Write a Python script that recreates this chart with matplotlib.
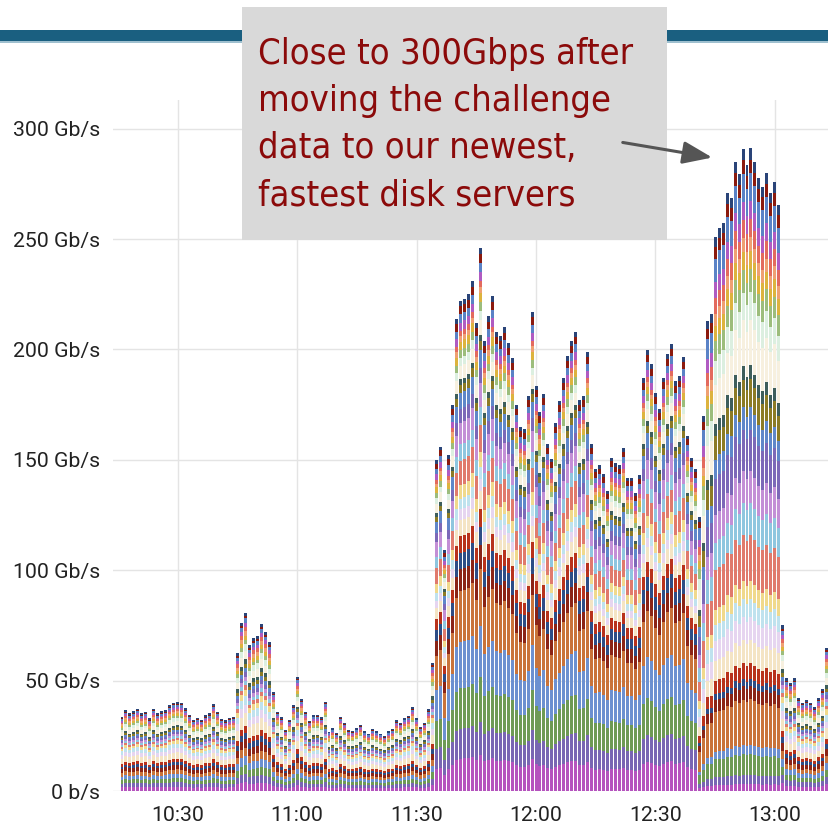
import matplotlib

matplotlib.use("Agg")
import matplotlib.pyplot as plt
import numpy as np
from matplotlib.patches import Rectangle, FancyArrowPatch
from matplotlib.ticker import FixedLocator, FuncFormatter

# one bar per minute, first bar at 10:16
start_minute = 10 * 60 + 16

# total throughput per minute (Gb/s)
totals = [
    33.7, 36.7, 35.2, 36.2, 37.3, 35.2, 36.0, 32.9, 37.3, 35.2,
    36.2, 36.7, 38.8, 40.0, 40.3, 40.0, 37.6, 34.6, 32.3, 33.2,
    32.3, 34.3, 35.2, 39.4, 36.0, 32.6, 32.0, 33.2, 33.5,
    62.4, 76.3, 80.8, 66.0, 69.2, 70.2, 75.7, 72.2, 67.4, 45.0,
    35.8, 33.4, 27.6, 32.2, 39.0, 51.8, 41.8, 35.9, 31.9, 34.4,
    34.6, 33.4, 40.5, 26.9, 28.4, 26.1, 33.7, 31.0, 27.6, 27.3, 28.4,
    30.0, 27.0, 26.0, 28.0, 27.0, 26.0, 25.0, 27.0, 28.0, 32.0,
    31.0, 33.0, 34.0, 38.0, 33.0, 29.0, 31.0, 37.0, 58.0,
    150.0, 156.0, 109.0, 152.0, 175.0, 214.0, 222.0, 223.0, 225.0, 231.0,
    212.0, 246.0,
    204.0, 215.0, 224.0, 208.0, 206.0, 210.0, 203.0, 196.0, 175.0, 165.0,
    164.0, 179.0, 217.0, 183.5, 171.6, 180.0, 157.0, 150.5, 166.7, 176.6,
    187.0, 197.0, 204.0, 208.0, 177.0, 179.0, 199.0, 157.0,
    146.0, 147.7, 143.6, 136.0, 151.0, 148.5, 147.7, 155.4, 142.0, 142.0,
    135.0, 143.0, 187.0, 199.7, 193.4, 180.5, 173.0, 187.3, 198.0, 202.5,
    185.6, 188.0, 196.7, 161.0, 151.0, 146.0,
    124.0, 170.0, 213.0, 216.0,
    251.0, 255.0, 257.5, 270.8, 268.8, 285.0, 279.6, 290.8, 283.6, 291.2,
    285.0, 277.6, 273.8, 280.0, 271.0, 276.0, 265.5,
    75.0, 51.0, 49.0, 51.0, 42.0, 40.0, 41.0, 40.0, 38.0, 42.0, 46.0, 65.0,
]

# which group of servers carries the traffic in each minute
phase = ["idle"] * 79 + ["old"] * 66 + ["new"] * 21 + ["idle"] * 12

layer_colors = [
    "#B553BE", "#7966B3", "#6E9A55", "#6C90D0", "#C9733A", "#8B2416",
    "#2D4D86", "#B8321C", "#F4E4C4", "#E6D5F0", "#BFE2EE", "#F0D98C",
    "#E07A6C", "#8FC6DF", "#C38FD6", "#7C68B8", "#5F87C9", "#8C7B25",
    "#3E5E5B", "#F7F0DF", "#DCEFE0", "#9CBD7C", "#DDB33E", "#EFA072",
    "#E36A5E", "#B05BC2", "#5A82C6", "#8B1A0E", "#2A4478",
]

# relative share of each server (layer) in each phase
share_idle = [2, 2, 2, 2, 2, 2, 1.5, 1.5, 3, 2, 2, 1.5, 1, 1, 1,
              1, 1, 1, 1, 2, 1.5, 1, 1, 1, 1, 1, 1, 0.5, 0.8]
share_old = [12, 11, 15, 17, 19, 8, 6, 6, 6, 4, 4, 5, 9, 6, 8,
             5, 6, 3, 2, 5, 3, 3, 3, 2, 2, 3, 3, 3, 2]
share_new = [3, 4, 9, 4, 20, 6, 3, 7, 10, 10, 8, 8, 20, 14, 14,
             18, 10, 12, 6, 20, 12, 10, 8, 6, 8, 8, 12, 6, 5]

y_ticks = [0, 50, 100, 150, 200, 250, 300]
y_labels = ["0 b/s", "50 Gb/s", "100 Gb/s", "150 Gb/s", "200 Gb/s", "250 Gb/s", "300 Gb/s"]
x_ticks = [10 * 60 + 30, 11 * 60, 11 * 60 + 30, 12 * 60, 12 * 60 + 30, 13 * 60]

note_lines = [
    "Close to 300Gbps after",
    "moving the challenge",
    "data to our newest,",
    "fastest disk servers",
]

W, H = 829, 827
fig = plt.figure(figsize=(W / 100, H / 100), dpi=100)

ax = fig.add_axes([113 / W, 1 - 791 / H, 1 - 113 / W, (791 - 100) / H])

shares = {"idle": np.array(share_idle), "old": np.array(share_old), "new": np.array(share_new)}
for k in shares:
    shares[k] = shares[k] / shares[k].sum()

x = start_minute + np.arange(len(totals))
tot = np.array(totals)
frac = np.array([shares[p] for p in phase])  # (n_bars, n_layers)
layers = frac * tot[:, None]
bottom = np.zeros(len(totals))
for j, color in enumerate(layer_colors):
    ax.bar(x, layers[:, j], bottom=bottom, width=0.75, color=color,
           linewidth=0, zorder=2)
    bottom += layers[:, j]

ax.set_ylim(0, 313)
ax.set_xlim(start_minute - 2.26, start_minute + 177.6)
ax.yaxis.set_major_locator(FixedLocator(y_ticks))
ax.set_yticklabels(y_labels)
ax.xaxis.set_major_locator(FixedLocator(x_ticks))
ax.xaxis.set_major_formatter(FuncFormatter(lambda v, p: f"{int(v) // 60}:{int(v) % 60:02d}"))
ax.grid(True, color="#E4E4E4", linewidth=1.0, zorder=0)
ax.set_axisbelow(True)
for s in ax.spines.values():
    s.set_visible(False)
ax.tick_params(axis="y", length=0, labelsize=15.3, labelcolor="#222222", pad=9)
ax.tick_params(axis="x", length=0, labelsize=15.3, labelcolor="#222222", pad=11)
for lab in ax.get_xticklabels() + ax.get_yticklabels():
    lab.set_family("Roboto")

# slide decorations in pixel coordinates
ov = fig.add_axes([0, 0, 1, 1], zorder=5)
ov.set_xlim(0, W)
ov.set_ylim(H, 0)
ov.axis("off")
ov.patch.set_alpha(0)
ov.add_patch(Rectangle((0, 30), W, 11, color="#1A5F80", linewidth=0))
ov.add_patch(Rectangle((0, 41), W, 1.5, color="#9FC0CF", linewidth=0))
ov.add_patch(Rectangle((242, 7), 425, 233, color="#D9D9D9", linewidth=0))
for k, line in enumerate(note_lines):
    ov.text(258, 64 + 47 * k, line, color="#8B0A0A", fontsize=26,
            family=["DejaVu Sans"], fontstretch="condensed", fontweight="light",
            va="baseline", ha="left")
ov.add_patch(FancyArrowPatch((620, 142), (715, 158), arrowstyle="-|>,head_length=6,head_width=2.3",
                             color="#555555", linewidth=2.2, mutation_scale=3))

fig.savefig("out.png", dpi=100)
